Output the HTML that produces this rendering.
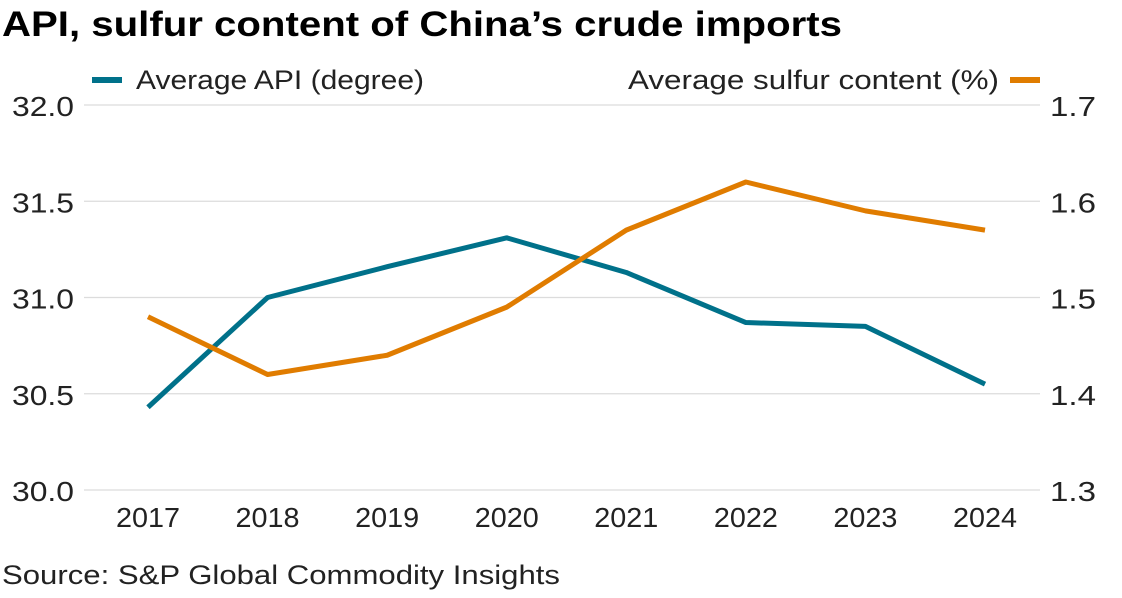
<!DOCTYPE html>
<html><head><meta charset="utf-8"><style>
body{margin:0;background:#fff;width:1122px;height:593px;overflow:hidden;font-family:"Liberation Sans",sans-serif;}
</style></head><body>
<svg width="1122" height="593" style="font-family:'Liberation Sans',sans-serif">
<text x="2" y="36" font-size="35" font-weight="bold" fill="#000" textLength="840" lengthAdjust="spacingAndGlyphs">API, sulfur content of China’s crude imports</text>
<g>
<line x1="92" y1="80" x2="122" y2="80" stroke="#00718a" stroke-width="6"/>
<text x="136" y="89" font-size="27" fill="#222" textLength="288" lengthAdjust="spacingAndGlyphs">Average API (degree)</text></g>
<g>
<text x="628" y="89" font-size="27" fill="#222" textLength="371" lengthAdjust="spacingAndGlyphs">Average sulfur content (%)</text>
<line x1="1010" y1="80" x2="1040" y2="80" stroke="#e07c00" stroke-width="6"/></g>
<g id="grid"></g><g id="lines"></g>
<text x="2" y="584" font-size="27" fill="#222" textLength="558" lengthAdjust="spacingAndGlyphs">Source: S&amp;P Global Commodity Insights</text>
</svg>
<script>
const years=["2017","2018","2019","2020","2021","2022","2023","2024"];
const api=[30.43,31.0,31.16,31.31,31.13,30.87,30.85,30.55];
const sulfur=[1.48,1.42,1.44,1.49,1.57,1.62,1.59,1.57];
const leftTicks=[30.0,30.5,31.0,31.5,32.0];
const rightTicks=[1.3,1.4,1.5,1.6,1.7];
const NS="http://www.w3.org/2000/svg";
const x0=148,dx=(985-148)/7,yTop=105,yBot=490;
const xs=i=>x0+i*dx;
const yL=v=>yBot-(v-30)/2*(yBot-yTop);
const yR=v=>yBot-(v-1.3)/0.4*(yBot-yTop);
const g=document.getElementById('grid'),L=document.getElementById('lines');
function mk(t,a,p){const e=document.createElementNS(NS,t);for(const k in a)e.setAttribute(k,a[k]);p.appendChild(e);return e;}
leftTicks.forEach((v,i)=>{
 const y=yL(v);
 const ln=mk('line',{x1:84,x2:1040,y1:y,y2:y,stroke:'#dcdcdc','stroke-width':1.2},g);
 
 
 const t=mk('text',{x:12,y:y+11,'font-size':28,fill:'#222',textLength:62,lengthAdjust:'spacingAndGlyphs'},g);t.textContent=v.toFixed(1);
 
 
});
rightTicks.forEach(v=>{
 const t=mk('text',{x:1050,y:yR(v)+11,'font-size':28,fill:'#222',textLength:46,lengthAdjust:'spacingAndGlyphs'},g);t.textContent=v.toFixed(1);
 
 
});
years.forEach((yr,i)=>{
 const t=mk('text',{x:xs(i)-32,y:527,'font-size':28,fill:'#222',textLength:64,lengthAdjust:'spacingAndGlyphs'},g);t.textContent=yr;
 
 
});
const pa=mk('polyline',{points:api.map((v,i)=>xs(i)+','+yL(v)).join(' '),fill:'none',stroke:'#00718a','stroke-width':5,'stroke-linejoin':'round'},L);


const ps=mk('polyline',{points:sulfur.map((v,i)=>xs(i)+','+yR(v)).join(' '),fill:'none',stroke:'#e07c00','stroke-width':5,'stroke-linejoin':'round'},L);


</script>
</body></html>
